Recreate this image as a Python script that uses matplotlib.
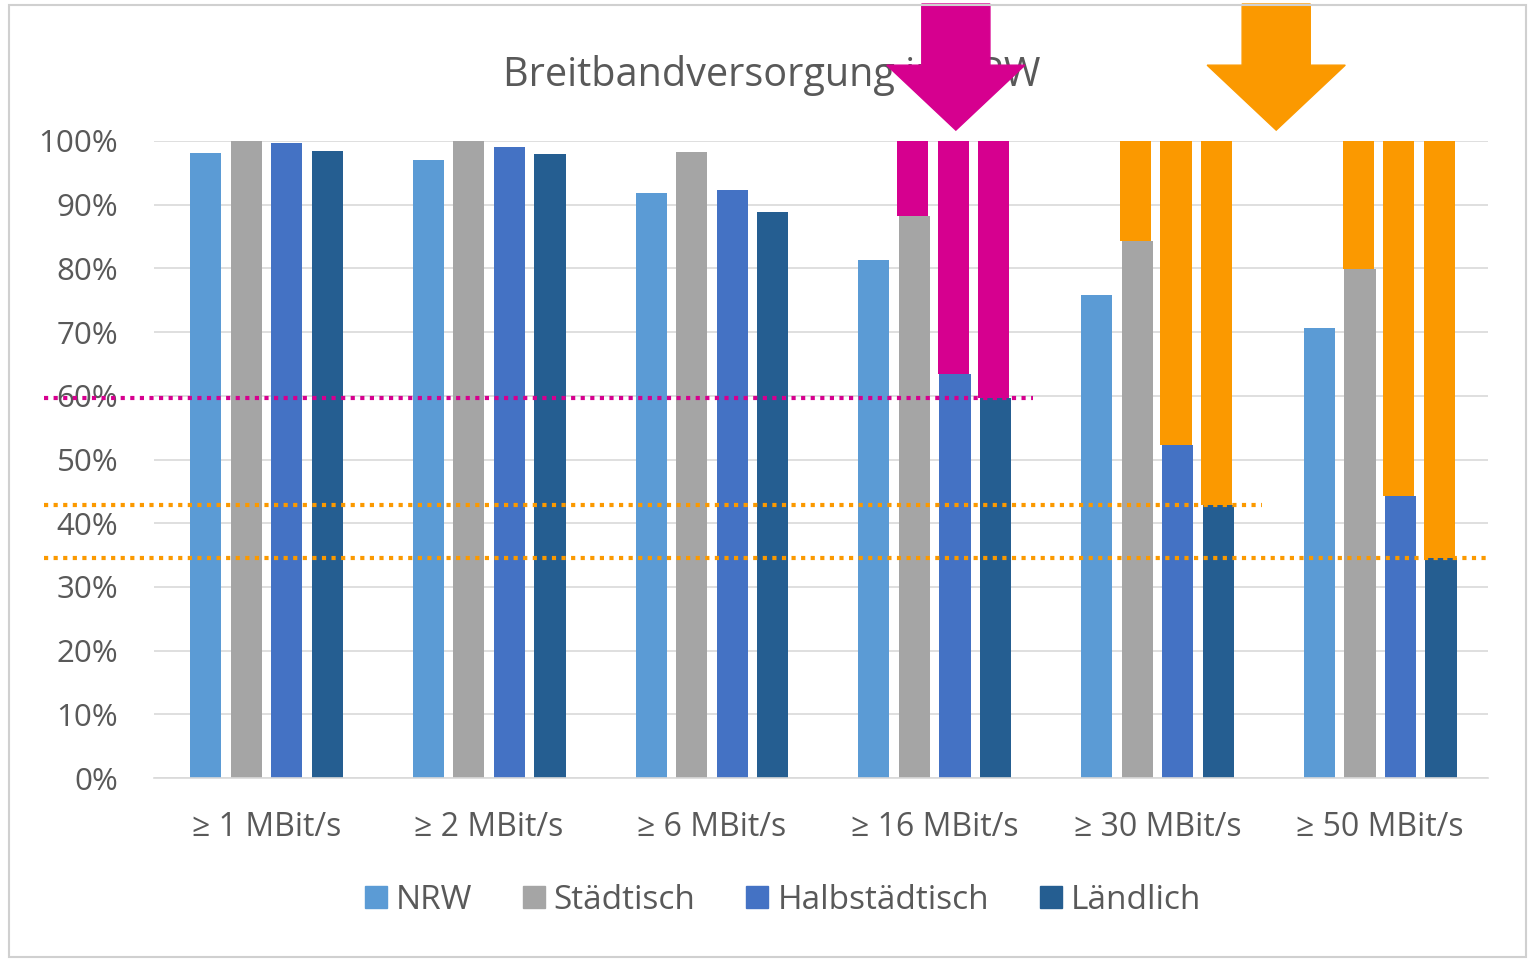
import matplotlib.pyplot as plt
from matplotlib.patches import Polygon, Rectangle
from matplotlib.lines import Line2D
import numpy as np

plt.rcParams['font.family'] = ['Open Sans', 'DejaVu Sans']

categories = ["≥ 1 MBit/s", "≥ 2 MBit/s", "≥ 6 MBit/s", "≥ 16 MBit/s", "≥ 30 MBit/s", "≥ 50 MBit/s"]
series_names = ["NRW", "Städtisch", "Halbstädtisch", "Ländlich"]
nrw = [98.1, 97.0, 91.8, 81.3, 75.9, 70.6]
staedtisch = [100.0, 100.0, 98.3, 88.3, 84.3, 79.9]
halbstaedtisch = [99.7, 99.0, 92.3, 63.4, 52.3, 44.3]
laendlich = [98.5, 98.0, 88.9, 59.6, 42.8, 34.6]
# categories whose gap to 100% is highlighted, and the colour used
gap_categories = [3, 4, 5]
gap_colors = ["#D6008F", "#FB9900", "#FB9900"]

colors = ["#5B9BD5", "#A5A5A5", "#4472C4", "#255E91"]
text_col = "#595959"

fig = plt.figure(figsize=(15.28, 9.59), dpi=100)
ax = fig.add_axes([0.101, 0.1887, 0.873, 0.6643])

values = [nrw, staedtisch, halbstaedtisch, laendlich]
x = np.arange(len(categories))
step = 0.182
width = 0.14
offsets = (np.arange(4) - 1.5) * step

for i, vals in enumerate(values):
    ax.bar(x + offsets[i], vals, width, color=colors[i], zorder=2, label=series_names[i])

# gap bars up to 100% for the non-NRW series
for ci, gc in zip(gap_categories, gap_colors):
    for si in range(1, 4):
        v = values[si][ci]
        ax.bar(ci + offsets[si] - 0.008, 100 - v, width, bottom=v, color=gc, zorder=3)

# dotted reference lines at the Ländlich values
dots = dict(lw=3.0, ls=(0, (1, 1.3)), clip_on=False, zorder=4)
ax.plot([-1.0, 3.44], [laendlich[3]] * 2, color="#D6008F", **dots)
ax.plot([-1.0, 4.47], [laendlich[4]] * 2, color="#FB9900", **dots)
ax.plot([-1.0, 5.49], [laendlich[5]] * 2, color="#FB9900", **dots)


def down_arrow(xc, color):
    sw, hw = 0.153, 0.31
    pts = [(xc - sw, 121.5), (xc + sw, 121.5), (xc + sw, 111.9), (xc + hw, 111.9),
           (xc, 101.7), (xc - hw, 111.9), (xc - sw, 111.9)]
    ax.add_patch(Polygon(pts, closed=True, color=color, clip_on=False, zorder=10))


down_arrow(3.095, "#D6008F")
down_arrow(4.533, "#FB9900")

ax.set_xlim(-0.503, 5.485)
ax.set_ylim(0, 100)
ax.set_yticks(np.arange(0, 101, 10))
ax.set_yticklabels([f"{v}%" for v in range(0, 101, 10)])
ax.set_xticks(x)
ax.set_xticklabels(categories)
ax.tick_params(axis='y', length=0, labelsize=22.5, colors=text_col, pad=26)
ax.tick_params(axis='x', length=0, labelsize=23, colors=text_col, pad=24)
ax.grid(axis='y', color="#D9D9D9", lw=1.2, zorder=0)
ax.set_axisbelow(True)
for s in ["top", "right", "left"]:
    ax.spines[s].set_visible(False)
ax.spines["bottom"].set_color("#D9D9D9")
ax.spines["bottom"].set_linewidth(1.2)

# title sits under the arrows
fig.text(0.505, 0.921, "Breitbandversorgung in NRW", ha="center", va="center",
         fontsize=28.5, color=text_col, zorder=-1)

handles = [Line2D([], [], marker='s', ls='none', markersize=16, color=c) for c in colors]
fig.legend(handles, series_names, loc="center", bbox_to_anchor=(0.511, 0.061), ncol=4,
           frameon=False, fontsize=24, labelcolor=text_col, handletextpad=0.15,
           columnspacing=1.4, handlelength=0.9)

# light frame around the chart
fig.patches.append(Rectangle((9 / 1528, 2 / 959), 1517 / 1528, 952 / 959,
                             transform=fig.transFigure, fill=False,
                             edgecolor="#D0D0D0", lw=1.5))

fig.savefig("out.png", dpi=100)
